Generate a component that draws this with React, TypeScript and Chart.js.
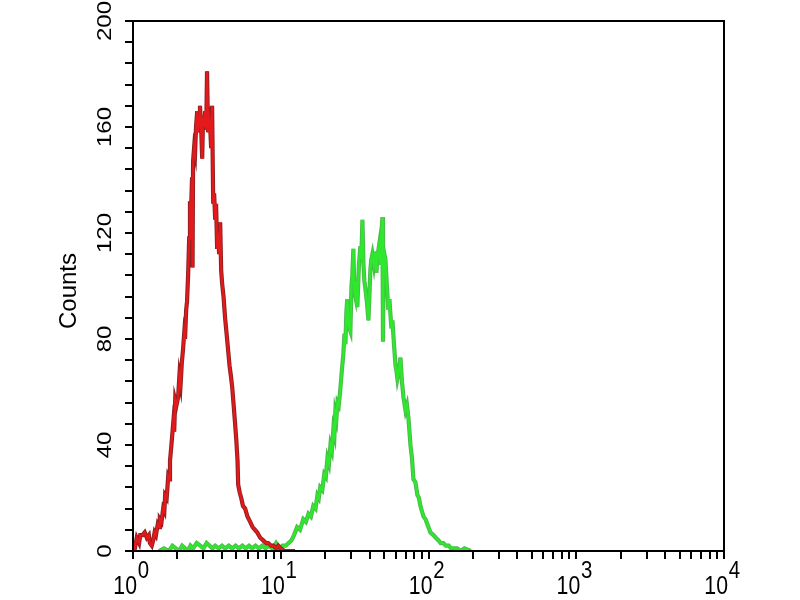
import React, { useEffect, useRef } from "react";
import { Chart, registerables } from "chart.js";

Chart.register(...registerables);

// Fluorescence intensity (log axis) and counts for the red (control) histogram
const redX = [
  1.0, 1.03, 1.06, 1.1, 1.12, 1.16, 1.2, 1.24, 1.28, 1.3, 1.34, 1.37, 1.4, 1.43, 1.47, 1.5, 1.52, 1.56,
  1.6, 1.63, 1.65, 1.69, 1.73, 1.76, 1.78, 1.82, 1.87, 1.9, 1.93, 1.97, 2.02, 2.06, 2.1, 2.14, 2.18,
  2.22, 2.25, 2.29, 2.32, 2.36, 2.4, 2.43, 2.47, 2.51, 2.53, 2.55, 2.59, 2.63, 2.67, 2.72, 2.76, 2.8,
  2.84, 2.89, 2.94, 2.98, 3.03, 3.08, 3.13, 3.17, 3.22, 3.28, 3.33, 3.38, 3.43, 3.49, 3.54, 3.6, 3.65,
  3.71, 3.77, 3.83, 3.89, 3.95, 4.01, 4.1, 4.2, 4.3, 4.4, 4.5, 4.6, 4.69, 4.8, 4.91, 5.0, 5.1, 5.15,
  5.28, 5.4, 5.55, 5.74, 5.95, 6.21, 6.45, 6.7, 6.93, 7.26, 7.61, 7.95, 8.23, 8.6, 8.9, 9.3, 9.62, 10.0,
  10.6, 11.5, 12.5,
];
const redCounts = [
  3, 1, 5, 3, 6, 6, 7, 5, 6, 3, 2, 4, 7, 6, 10, 9, 12, 11,
  16, 15, 21, 20, 28, 27, 34, 40, 48, 45, 57, 55, 58, 66, 63, 71, 76,
  82, 80, 91, 94, 104, 118, 132, 128, 141, 107, 147, 152, 150, 160, 166, 158, 162,
  168, 160, 148, 164, 160, 166, 159, 181, 158, 163, 160, 152, 168, 131, 135, 125, 131,
  114, 120, 112, 124, 106, 101, 96, 88, 82, 76, 70, 66, 62, 55, 48, 42, 34, 25,
  22, 20, 17, 16, 13, 11, 9, 8, 7, 5, 4, 3, 3, 2, 2, 1, 2, 1,
  0, 0, 0,
];

// Fluorescence intensity (log axis) and counts for the green (stained) histogram
const greenX = [
  1.5, 1.62, 1.75, 1.85, 1.95, 2.05, 2.15, 2.25, 2.35, 2.45, 2.55, 2.7, 2.85, 3.0, 3.15, 3.3, 3.45, 3.6,
  3.8, 4.0, 4.2, 4.45, 4.7, 4.95, 5.2, 5.5, 5.8, 6.1, 6.4, 6.75, 7.1, 7.5, 7.9, 8.3, 8.8, 9.3, 9.8,
  10.3, 10.8, 11.3, 11.8, 12.3, 12.9, 13.5, 14.2, 14.8, 15.4, 16.0, 16.6, 17.2, 17.7, 18.1, 18.5, 19.1,
  19.7, 20.2, 20.7, 21.2, 21.7, 22.2, 22.7, 23.1, 23.4, 23.8, 24.2, 24.7, 25.3, 25.9, 26.5, 27.0, 27.4,
  27.8, 28.2, 28.8, 29.6, 30.1, 30.5, 31.0, 31.5, 32.0, 32.5, 33.0, 33.8, 34.6, 35.1, 35.7, 36.3, 36.8,
  37.4, 38.3, 39.2, 39.8, 40.4, 41.0, 41.7, 42.7, 43.7, 44.4, 45.1, 46.2, 47.3, 48.0, 48.8, 49.2, 49.6,
  50.3, 51.1, 52.3, 53.5, 54.4, 55.3, 56.1, 57.0, 58.4, 59.8, 60.7, 61.6, 63.1, 64.6, 66.1, 67.7, 69.9,
  71.5, 73.2, 75.5, 77.3, 79.1, 81.5, 84.2, 86.2, 88.2, 90.3, 92.5, 95.5, 98.4, 103, 108, 112, 117, 121,
  126, 131, 137, 142, 148, 156, 165, 175, 193,
];
const greenCounts = [
  0, 1, 0, 2, 1, 0, 2, 1, 0, 2, 1, 3, 2, 1, 3, 2, 1, 2,
  1, 2, 1, 2, 1, 2, 1, 2, 1, 2, 1, 2, 1, 2, 1, 2, 1, 3, 1,
  2, 2, 3, 4, 6, 9, 8, 12, 11, 14, 13, 17, 16, 21, 20, 24, 23,
  29, 28, 35, 33, 40, 38, 46, 44, 52, 50, 56, 55, 61, 68, 74, 82, 78,
  90, 95, 85, 83, 100, 104, 114, 98, 96, 102, 92, 108, 115, 110, 125, 108, 102,
  99, 94, 87, 96, 106, 110, 112, 108, 113, 105, 111, 115, 108, 120, 126, 79, 106,
  112, 110, 100, 91, 95, 89, 84, 87, 78, 70, 68, 65, 68, 73, 64, 58, 53,
  55, 50, 40, 35, 27, 26, 21, 20, 17, 15, 13, 12, 10, 7, 6, 5, 4, 3,
  3, 2, 2, 1, 1, 1, 0, 1, 0,
];

const yTickValues = [0, 40, 80, 120, 160, 200];
const yMinorStep = 8;
const xDecadeValues = [1, 10, 100, 1000, 10000];
const xDecadeExponents = ["0", "1", "2", "3", "4"];
const yTitle = "Counts";

const xTickValues: number[] = [];
for (let d = 0; d < 4; d++) {
  for (let k = 1; k <= 9; k++) xTickValues.push(k * Math.pow(10, d));
}
xTickValues.push(10000);

const toPoints = (xs: number[], ys: number[]) => xs.map((x, i) => ({ x, y: ys[i] }));

const FONT = "'Liberation Sans', Arial, Helvetica, sans-serif";

const framePlugin = {
  id: "frameAndLabels",
  beforeDraw(chart: any) {
    const ctx = chart.ctx;
    ctx.save();
    ctx.fillStyle = "#ffffff";
    ctx.fillRect(0, 0, chart.width, chart.height);
    ctx.restore();
  },
  afterDraw(chart: any) {
    const ctx = chart.ctx;
    const a = chart.chartArea;
    const xs = chart.scales.x;
    const ys = chart.scales.y;
    ctx.save();
    ctx.strokeStyle = "#000";
    ctx.lineWidth = 2;
    ctx.strokeRect(a.left, a.top, a.right - a.left, a.bottom - a.top);

    ctx.fillStyle = "#000";
    // y tick labels, rotated
    ctx.font = `24px ${FONT}`;
    ctx.textAlign = "center";
    ctx.textBaseline = "middle";
    yTickValues.forEach((v) => {
      const py = ys.getPixelForValue(v);
      ctx.save();
      ctx.translate(104, py);
      ctx.rotate(-Math.PI / 2);
      ctx.scale(1, 0.88);
      ctx.fillText(String(v), 0, 1);
      ctx.restore();
    });

    // y title
    ctx.save();
    ctx.font = `24px ${FONT}`;
    ctx.translate(69, 291);
    ctx.rotate(-Math.PI / 2);
    ctx.fillText(yTitle, 0, 0);
    ctx.restore();

    // x decade labels with superscripts
    xDecadeValues.forEach((v, i) => {
      const px = xs.getPixelForValue(v);
      ctx.save();
      ctx.translate(px + 4, 594);
      ctx.scale(0.85, 1);
      ctx.textBaseline = "alphabetic";
      ctx.textAlign = "right";
      ctx.font = `25px ${FONT}`;
      ctx.fillText("10", 0, 0);
      ctx.textAlign = "left";
      ctx.font = `24px ${FONT}`;
      ctx.fillText(xDecadeExponents[i], 1, -16);
      ctx.restore();
    });
    ctx.restore();
  },
};

export default function App() {
  const ref = useRef<HTMLCanvasElement | null>(null);
  useEffect(() => {
    if (!ref.current) return;
    const red = toPoints(redX, redCounts);
    const green = toPoints(greenX, greenCounts);
    const axisGrid = {
      drawOnChartArea: false,
      drawTicks: true,
      tickLength: 8,
      color: "#000",
      lineWidth: 2,
    };
    const chart = new Chart(ref.current, {
      type: "line",
      data: {
        datasets: [
          { data: red, borderColor: "#e3191c", borderWidth: 2.4, order: 0, pointRadius: 0 },
          { data: red, borderColor: "#8c2020", borderWidth: 4.2, order: 1, pointRadius: 0 },
          { data: green, borderColor: "#2ee82e", borderWidth: 2.4, order: 2, pointRadius: 0 },
          { data: green, borderColor: "#4cb84c", borderWidth: 4.2, order: 3, pointRadius: 0 },
        ],
      },
      options: {
        responsive: false,
        animation: false,
        layout: { padding: { top: 21, right: 76, left: 0, bottom: 0 } },
        plugins: { legend: { display: false }, tooltip: { enabled: false }, title: { display: false } },
        elements: { line: { tension: 0 }, point: { radius: 0 } },
        scales: {
          x: {
            type: "logarithmic",
            min: 1,
            max: 10000,
            afterBuildTicks: (s: any) => {
              s.ticks = xTickValues.map((v) => ({ value: v }));
            },
            afterFit: (s: any) => {
              s.height = 49;
            },
            ticks: { display: false },
            grid: axisGrid,
            border: { display: true, color: "#000", width: 2 },
          },
          y: {
            type: "linear",
            min: 0,
            max: 200,
            afterFit: (s: any) => {
              s.width = 133;
            },
            ticks: { display: false, stepSize: yMinorStep },
            grid: axisGrid,
            border: { display: true, color: "#000", width: 2 },
          },
        },
      } as any,
      plugins: [framePlugin],
    });
    return () => chart.destroy();
  }, []);
  return (
    <div style={{ position: "absolute", left: 0, top: 0, width: 800, height: 600, background: "#fff" }}>
      <canvas ref={ref} width={800} height={600} />
    </div>
  );
}
